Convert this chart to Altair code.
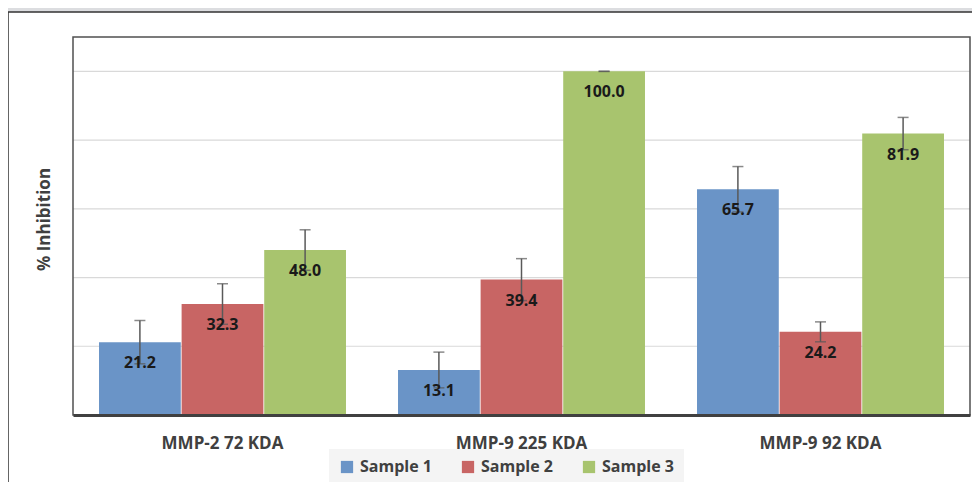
import altair as alt
import pandas as pd

groups = ["MMP-2 72 KDA", "MMP-9 225 KDA", "MMP-9 92 KDA"]
samples = ["Sample 1", "Sample 2", "Sample 3"]
sample1 = [21.2, 13.1, 65.7]
sample2 = [32.3, 39.4, 24.2]
sample3 = [48.0, 100.0, 81.9]
err1 = [6.3, 5.2, 6.6]
err2 = [5.9, 6.1, 2.9]
err3 = [5.9, 0.0, 4.7]
grid_values = [0, 20, 40, 60, 80, 100]
colors = ["#6a94c7", "#c86564", "#a8c46e"]

rows = []
for s, vals, errs in zip(samples, [sample1, sample2, sample3], [err1, err2, err3]):
    for g, v, e in zip(groups, vals, errs):
        rows.append({"group": g, "sample": s, "value": v, "lo": v - e, "hi": v + e})
df = pd.DataFrame(rows)
grid_df = pd.DataFrame({"g": grid_values})

FONT = "Open Sans"
W, H = 897, 378

x_enc = alt.X("group:N", sort=groups, title=None,
              scale=alt.Scale(paddingInner=0.174, paddingOuter=0.087),
              axis=alt.Axis(labelAngle=0, ticks=False, labelPadding=20, zindex=1,
                            labelFont=FONT, labelFontSize=17, labelFontWeight="bold",
                            labelColor="#404040", domainColor="#404040", domainWidth=3))
xoff = alt.XOffset("sample:N", sort=samples, scale=alt.Scale(paddingInner=0.01))
y_scale = alt.Scale(domain=[0, 110], nice=False)

one = pd.DataFrame({"a": [0]})
panel = alt.Chart(one).mark_rect(
    fill="white", stroke="#333333", strokeWidth=1.5
).encode(x=alt.value(-65), x2=alt.value(W + 20), y=alt.value(-25), y2=alt.value(H + 100))

grid = alt.Chart(grid_df).mark_rule(color="#d9d9d9", strokeWidth=1.2).encode(
    y=alt.Y("g:Q", scale=y_scale))

bars = alt.Chart(df).mark_bar().encode(
    x=x_enc,
    xOffset=xoff,
    y=alt.Y("value:Q", scale=y_scale, title="% Inhibition",
            axis=alt.Axis(labels=False, ticks=False, domain=False, grid=False, zindex=1,
                          titleFont=FONT, titleFontSize=17, titleFontWeight="bold",
                          titleColor="#404040", titleAngle=270, titleX=-29, titleY=182,
                          titleAlign="center", titleBaseline="middle")),
    color=alt.Color("sample:N", sort=samples,
                    scale=alt.Scale(domain=samples, range=colors),
                    legend=alt.Legend(title=None, orient="none", direction="horizontal",
                                      legendX=256, legendY=412, symbolType="square",
                                      symbolSize=150, symbolStrokeWidth=0,
                                      labelFont=FONT, labelFontSize=16, labelFontWeight="bold",
                                      labelColor="#404040", labelOffset=5, columnPadding=28,
                                      fillColor="#f4f4f4", padding=10)),
)

rules = alt.Chart(df).mark_rule(color="#595959", strokeWidth=1.5).encode(
    x=alt.X("group:N", sort=groups), xOffset=xoff,
    y=alt.Y("lo:Q", scale=y_scale), y2="hi:Q")

cap_hi = alt.Chart(df).mark_tick(color="#595959", thickness=1.5, size=11, orient="horizontal").encode(
    x=alt.X("group:N", sort=groups), xOffset=xoff, y=alt.Y("hi:Q", scale=y_scale))
cap_lo = alt.Chart(df).mark_tick(color="#595959", thickness=1.5, size=11, orient="horizontal").encode(
    x=alt.X("group:N", sort=groups), xOffset=xoff, y=alt.Y("lo:Q", scale=y_scale))

labels = alt.Chart(df).mark_text(font=FONT, fontSize=16, fontWeight="bold", color="#1a1a1a",
                                 dy=21, baseline="middle").encode(
    x=alt.X("group:N", sort=groups), xOffset=xoff,
    y=alt.Y("value:Q", scale=y_scale),
    text=alt.Text("value:Q", format=".1f"))

frame = alt.Chart(one).mark_rect(fill=None, stroke="#505050", strokeWidth=1.5).encode(
    x=alt.value(0), x2=alt.value(W), y=alt.value(0), y2=alt.value(H))

chart = alt.layer(panel, grid, bars, rules, cap_hi, cap_lo, labels, frame).properties(
    width=W, height=H,
    autosize=alt.AutoSizeParams(type="none"),
    padding={"left": 65, "top": 29, "right": 2, "bottom": 67},
    background="#dcdde0",
).configure_view(stroke=None)

chart.save("out.html", embed_options={"renderer": "svg", "actions": False})
